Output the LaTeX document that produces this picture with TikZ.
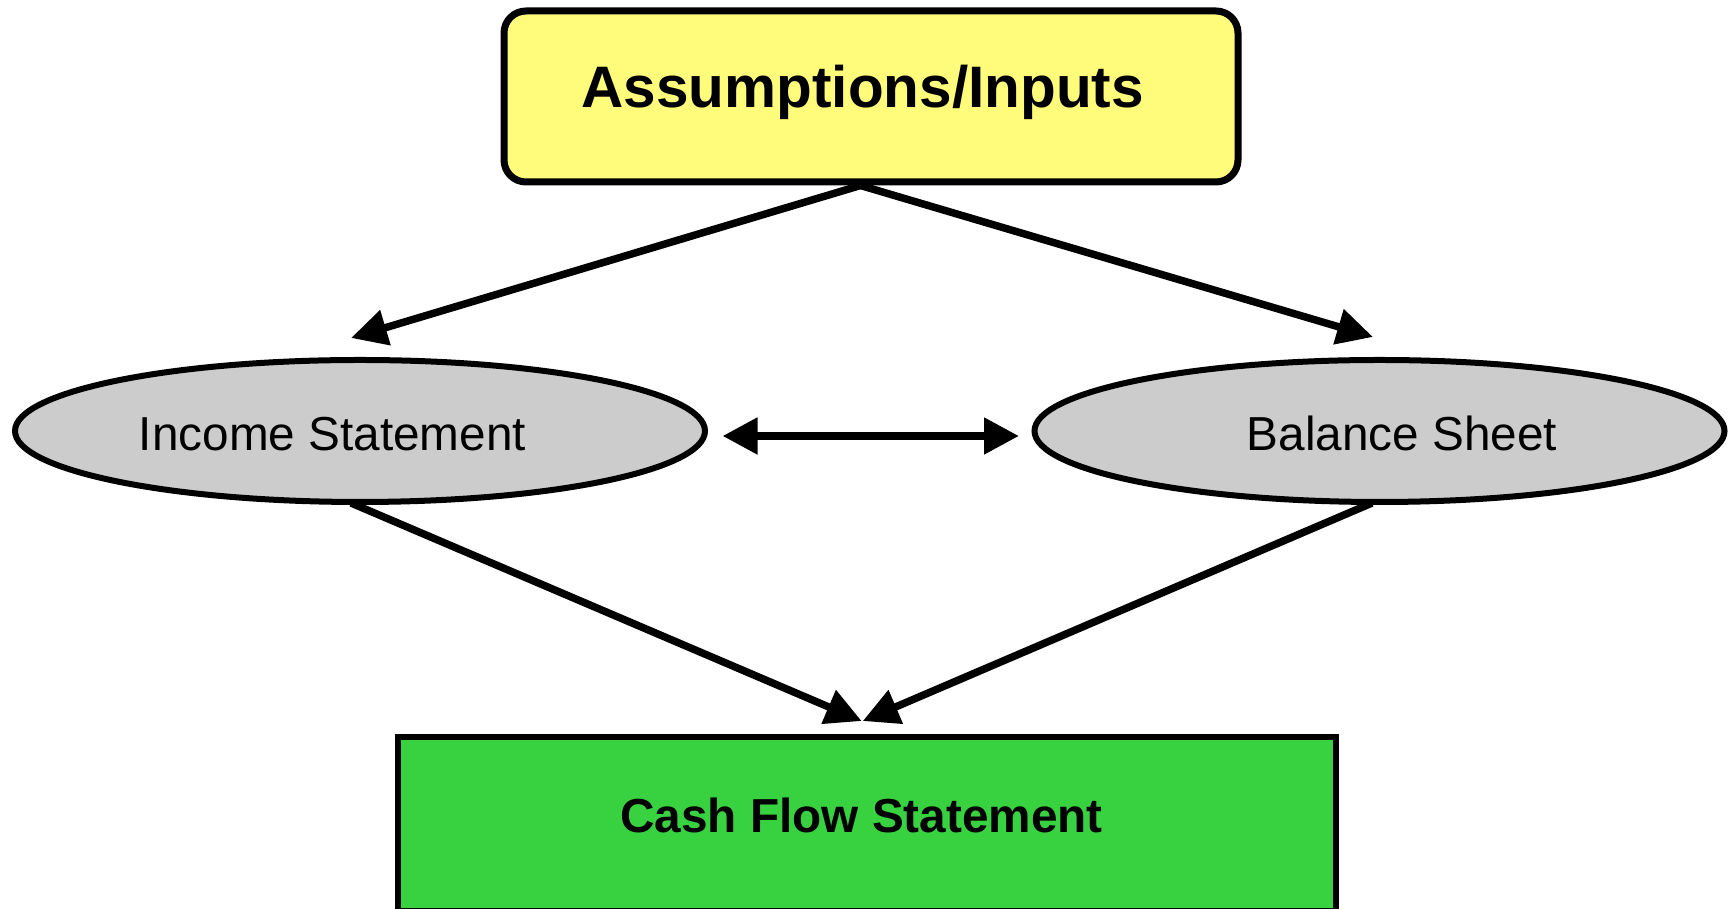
\documentclass[tikz,border=0pt]{standalone}
\usepackage{fontspec}
\setmainfont{Liberation Sans}
\usetikzlibrary{arrows.meta,shapes.geometric}
\definecolor{inputyellow}{HTML}{FFFB7B}
\definecolor{sheetgray}{HTML}{CCCCCC}
\definecolor{cashgreen}{HTML}{38D241}
\tikzset{
  inputbox/.style={draw=black, line width=7pt, fill=inputyellow, rounded corners=22pt,
    minimum width=734pt, minimum height=171pt, inner sep=0pt},
  sheet/.style={draw=black, line width=6pt, fill=sheetgray, ellipse,
    minimum width=690pt, minimum height=142pt, inner sep=0pt},
  cashbox/.style={draw=black, line width=6.5pt, fill=cashgreen,
    minimum width=938pt, minimum height=174pt, inner sep=0pt},
  bigbold/.style={anchor=base, inner sep=0pt, font=\fontsize{58.5}{60}\selectfont\bfseries},
  midbold/.style={anchor=base, inner sep=0pt, font=\fontsize{47.7}{50}\selectfont\bfseries},
  plain/.style={anchor=base, inner sep=0pt, font=\fontsize{47.7}{50}\selectfont},
  flow/.style={line width=7.5pt, -{Triangle[length=36pt,width=35pt]}},
  link/.style={line width=8pt, {Triangle[length=35pt,width=35pt]}-{Triangle[length=35pt,width=35pt]}}
}
\begin{document}
\begin{tikzpicture}[x=1pt,y=1pt]
  \useasboundingbox (0,0) rectangle (1732,909);
  \begin{scope}
    \clip (0,0) rectangle (1732,909);
    % shapes
    \node[inputbox] (inputs) at (871,812.5) {};
    \node[sheet] (income) at (360,478) {};
    \node[sheet] (balance) at (1379.5,478) {};
    \node[cashbox] (cash) at (867.2,85) {};
  \end{scope}
  % labels
  \node[bigbold] (inputslabel) at ([shift={(-8.3,-11.5)}]inputs.center) {Assumptions/Inputs};
  \node[plain] (incomelabel) at ([shift={(-27.5,-19.5)}]income.center) {Income Statement};
  \node[plain] (balancelabel) at ([shift={(22.5,-19.5)}]balance.center) {Balance Sheet};
  \node[midbold] (cashlabel) at ([shift={(-5.6,-9)}]cash.center) {Cash Flow Statement};
  % connectors
  \draw[flow] ([xshift=-10.5]inputs.south) -- ([shift={(-9,19)}]income.north);
  \draw[flow] ([xshift=-10.5]inputs.south) -- ([shift={(-6.5,20)}]balance.north);
  \draw[link] ([shift={(14.5,-5)}]income.east) -- ([shift={(-12.5,-5)}]balance.west);
  \draw[flow] ([shift={(-9,2)}]income.south) -- ([shift={(-5.5,12.7)}]cash.north);
  \draw[flow] ([shift={(-7.5,2)}]balance.south) -- ([shift={(-4.5,12.7)}]cash.north);
\end{tikzpicture}
\end{document}
